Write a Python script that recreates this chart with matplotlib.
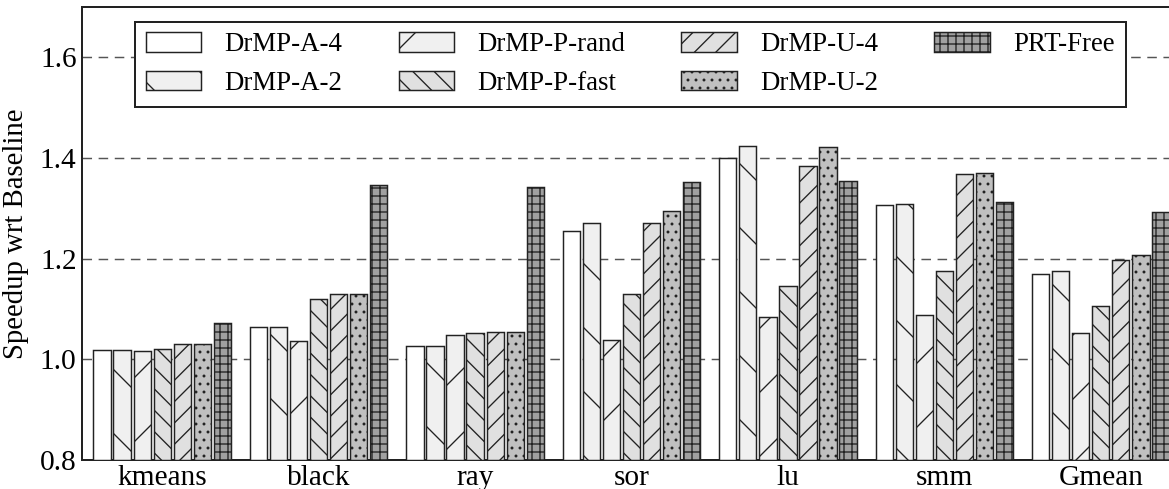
import numpy as np
import matplotlib
matplotlib.use("Agg")
import matplotlib.pyplot as plt

# Benchmarks and configurations
benchmarks = ["kmeans", "black", "ray", "sor", "lu", "smm", "Gmean"]
series_names = ["DrMP-A-4", "DrMP-A-2", "DrMP-P-rand", "DrMP-P-fast",
                "DrMP-U-4", "DrMP-U-2", "PRT-Free"]

# Speedup over baseline, one list per configuration (ordered by benchmark)
drmp_a4 = [1.018, 1.064, 1.026, 1.255, 1.400, 1.306, 1.169]
drmp_a2 = [1.018, 1.064, 1.026, 1.270, 1.424, 1.309, 1.175]
drmp_p_rand = [1.016, 1.036, 1.048, 1.038, 1.084, 1.088, 1.052]
drmp_p_fast = [1.020, 1.120, 1.052, 1.129, 1.146, 1.175, 1.105]
drmp_u4 = [1.031, 1.130, 1.054, 1.271, 1.385, 1.369, 1.198]
drmp_u2 = [1.031, 1.130, 1.054, 1.295, 1.421, 1.371, 1.208]
prt_free = [1.073, 1.346, 1.342, 1.353, 1.354, 1.312, 1.292]

yticks = [0.8, 1.0, 1.2, 1.4, 1.6]

series = [drmp_a4, drmp_a2, drmp_p_rand, drmp_p_fast, drmp_u4, drmp_u2, prt_free]
fills = ["#ffffff", "#f0f0f0", "#f0f0f0", "#e0e0e0", "#e0e0e0", "#c0c0c0", "#a0a0a0"]
hatches = ["", "\\", "/", "\\\\\\", "///", "....", "++++"]

plt.rcParams["font.family"] = ["Liberation Serif", "DejaVu Serif"]
plt.rcParams["hatch.linewidth"] = 0.5
plt.rcParams["hatch.color"] = "black"

DPI = 192
fig = plt.figure(figsize=(1169 / DPI, 489 / DPI), dpi=DPI)
L, R, T, B = 82, 1170, 7, 460
ax = fig.add_axes([L / 1169, 1 - B / 489, (R - L) / 1169, (B - T) / 489])

group_step = 7.8
width = 0.86
centers = np.arange(len(benchmarks)) * group_step

for j, (vals, fc, h, name) in enumerate(zip(series, fills, hatches, series_names)):
    x = centers + (j - 3)
    base = yticks[0]
    ax.bar(x, np.array(vals) - base, width, bottom=base, color=fc, hatch=h,
           edgecolor="#222222", linewidth=0.55, label=name, zorder=3)

ax.set_ylim(0.8, 1.7)
ax.set_xlim(-4.0, centers[-1] + 3 + width / 2 + 0.02)
ax.set_yticks(yticks)
ax.set_yticklabels([f"{t:.1f}" for t in yticks])
ax.set_xticks(centers)
ax.set_xticklabels(benchmarks)
ax.tick_params(axis="both", length=0, labelsize=11, pad=2)
ax.set_ylabel("Speedup wrt Baseline", fontsize=10.8, labelpad=4)

for t in yticks[1:]:
    ax.axhline(t, color="#555555", linestyle=(0, (6.5, 4.5)), linewidth=0.55, zorder=1)

for s in ax.spines.values():
    s.set_linewidth(0.75)
    s.set_color("#222222")

leg = fig.legend(loc="upper left", bbox_to_anchor=(135 / 1169, 1 - 21.7 / 489),
                 bbox_transform=fig.transFigure, ncol=4, fontsize=10.1,
                 frameon=True, fancybox=False, framealpha=1, edgecolor="#222222",
                 handlelength=2.05, handleheight=0.72, handletextpad=0.88,
                 columnspacing=2.08, labelspacing=0.5, borderpad=0.4,
                 borderaxespad=0)
leg.get_frame().set_linewidth(0.75)

fig.savefig("out.png", dpi=DPI)
